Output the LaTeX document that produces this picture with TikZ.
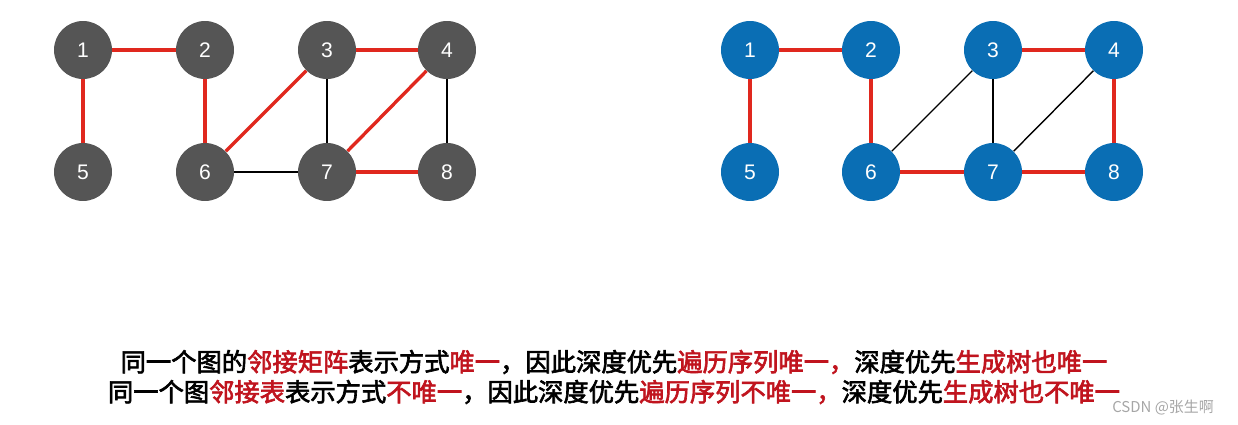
\documentclass[tikz,border=0pt]{standalone}
\usepackage{fontspec}
\setsansfont{Liberation Sans}
\newfontfamily\cjk[AutoFakeBold=2.5]{Noto Sans CJK SC}
\newfontfamily\cjklight{Noto Sans CJK SC}
\usetikzlibrary{positioning}
\definecolor{nodegray}{HTML}{555555}
\definecolor{nodeblue}{HTML}{0A6EB4}
\definecolor{edgered}{HTML}{E0281E}
\definecolor{textred}{HTML}{C0141E}
\begin{document}
\begin{tikzpicture}[x=0.02cm,y=-0.02cm]
			\tikzstyle{Vertex} 	= [circle, minimum size=1.16cm, inner sep=0pt, text=white, font=\sffamily\fontsize{12}{14}\selectfont]
			\tikzstyle{Gray}	= [fill=nodegray]
			\tikzstyle{Blue}	= [fill=nodeblue]
			\tikzstyle{Tree}	= [line width=1.9pt, edgered]
			\tikzstyle{Back}	= [line width=0.8pt, black]
			\newcommand{\hl}[1]{\textcolor{textred}{#1}}
			
			\useasboundingbox (0,0) rectangle (1238,425);
			
			\node (a1) at (83, 50) [Vertex][Gray] {1};
			\node (a2) at (205, 50) [Vertex][Gray] {2};
			\node (a3) at (327, 50) [Vertex][Gray] {3};
			\node (a4) at (447, 50) [Vertex][Gray] {4};
			\node (a5) at (83, 172) [Vertex][Gray] {5};
			\node (a6) at (205, 172) [Vertex][Gray] {6};
			\node (a7) at (327, 172) [Vertex][Gray] {7};
			\node (a8) at (447, 172) [Vertex][Gray] {8};
			
			\node (b1) at (750, 50) [Vertex][Blue] {1};
			\node (b2) at (871, 50) [Vertex][Blue] {2};
			\node (b3) at (993, 50) [Vertex][Blue] {3};
			\node (b4) at (1114, 50) [Vertex][Blue] {4};
			\node (b5) at (750, 172) [Vertex][Blue] {5};
			\node (b6) at (871, 172) [Vertex][Blue] {6};
			\node (b7) at (993, 172) [Vertex][Blue] {7};
			\node (b8) at (1114, 172) [Vertex][Blue] {8};
			
			\draw (a1) -- (a2) [Tree];
			\draw (a1) -- (a5) [Tree];
			\draw (a2) -- (a6) [Tree];
			\draw (a3) -- (a4) [Tree];
			\draw (a6) -- (a3) [Tree];
			\draw (a4) -- (a7) [Tree];
			\draw (a7) -- (a8) [Tree];
			\draw (a3) -- (a7) [Back];
			\draw (a4) -- (a8) [Back];
			\draw (a6) -- (a7) [Back];
			
			\draw (b1) -- (b2) [Tree];
			\draw (b1) -- (b5) [Tree];
			\draw (b2) -- (b6) [Tree];
			\draw (b3) -- (b4) [Tree];
			\draw (b4) -- (b8) [Tree];
			\draw (b6) -- (b7) [Tree];
			\draw (b7) -- (b8) [Tree];
			\draw (b6) -- (b3) [Back];
			\draw (b3) -- (b7) [Back];
			\draw (b7) -- (b4) [Back];
			
			\node (line1) at (614, 362) [font=\cjk\bfseries\fontsize{14.4}{17}\selectfont] {同一个图的\hl{邻接矩阵}表示方式\hl{唯一}，因此深度优先\hl{遍历序列唯一，}深度优先\hl{生成树也唯一}};
			\node (line2) at (614, 392) [font=\cjk\bfseries\fontsize{14.4}{17}\selectfont] {同一个图\hl{邻接表}表示方式\hl{不唯一}，因此深度优先\hl{遍历序列不唯一，}深度优先\hl{生成树也不唯一}};
			\node (mark) at (1163, 408) [font=\cjklight\fontsize{8.5}{10}\selectfont, text=gray!70] {CSDN @张生啊};
		\end{tikzpicture}
\end{document}
